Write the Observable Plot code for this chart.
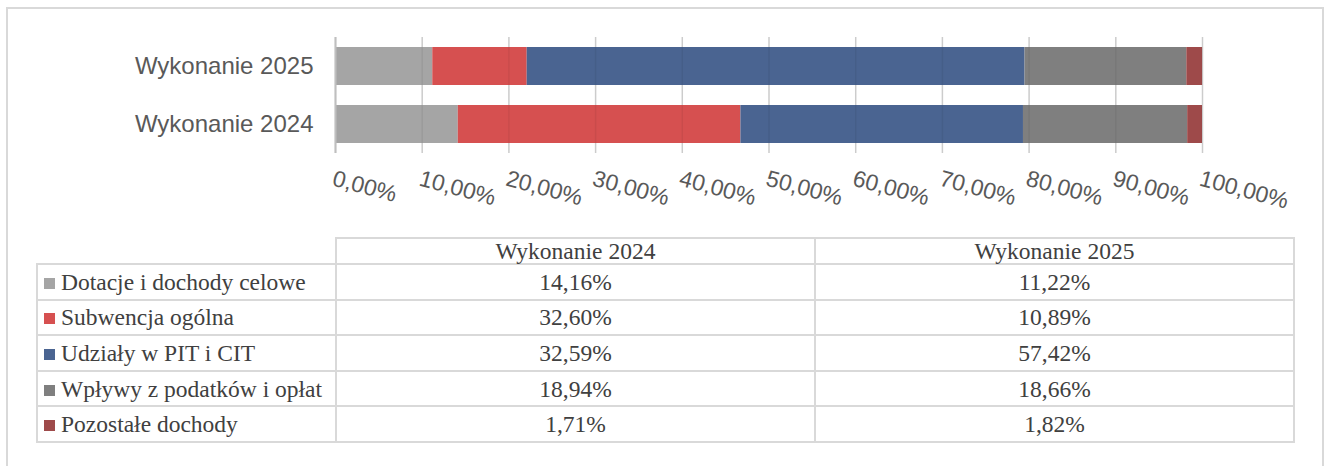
<!DOCTYPE html>
<html>
<head>
<meta charset="utf-8">
<script src="https://cdn.jsdelivr.net/npm/d3@7"></script>
<script src="https://cdn.jsdelivr.net/npm/@observablehq/plot@0.6"></script>
<style>
  html, body { margin: 0; padding: 0; background: #fff; }
  body { width: 1324px; height: 466px; position: relative; overflow: hidden; }
  #frame { position: absolute; left: 6px; top: 7px; width: 1314px; height: 480px; border: 2px solid #d9d9d9; box-sizing: content-box; }
  #chart { position: absolute; left: 0; top: 0; }
  #tbl { position: absolute; left: 36px; top: 237px; border-collapse: collapse; table-layout: fixed;
         font-family: "Liberation Serif", "Times New Roman", serif; font-size: 23.5px; color: #404040; }
  #tbl td { border: 2px solid #d9d9d9; padding: 0; line-height: 22px; vertical-align: middle; white-space: nowrap; }
  #tbl td.num { text-align: center; }
  #tbl td.lab { padding-left: 6px; }
  #tbl td.empty { border: none; }
  #tbl tr.head td { height: 24px; }
  #tbl tr.row td { height: 33.6px; }
  .sw { display: inline-block; width: 11px; height: 11px; margin-right: 6px; vertical-align: 1px; }
</style>
</head>
<body>
<div id="frame"></div>
<div id="chart"></div>
<table id="tbl"></table>
<script>
// ---- data ----
const years = ["Wykonanie 2024", "Wykonanie 2025"];
const categories = ["Dotacje i dochody celowe", "Subwencja ogólna", "Udziały w PIT i CIT", "Wpływy z podatków i opłat", "Pozostałe dochody"];
const values2024 = [14.16, 32.60, 32.59, 18.94, 1.71];
const values2025 = [11.22, 10.89, 57.42, 18.66, 1.82];
const colors = ["#a5a5a5", "#d65050", "#4a6491", "#7f7f7f", "#9e4a4a"];
const ticks = [0, 10, 20, 30, 40, 50, 60, 70, 80, 90, 100];

const fmt = v => v.toFixed(2).replace(".", ",") + "%";

const data = [];
categories.forEach((c, i) => {
  data.push({year: years[0], category: c, value: values2024[i]});
  data.push({year: years[1], category: c, value: values2025[i]});
});

const plot = Plot.plot({
  width: 1324,
  height: 230,
  marginLeft: 335,
  marginRight: 122,
  marginTop: 37,
  marginBottom: 77,
  style: {fontFamily: "'Liberation Sans', Arial, sans-serif", background: "transparent"},
  x: {domain: [0, 100], axis: null},
  y: {domain: [years[1], years[0]], paddingInner: 0.345, paddingOuter: 0.1725, axis: null},
  color: {domain: categories, range: colors},
  marks: [
    Plot.ruleX(ticks, {x: d => d, stroke: "#d9d9d9", strokeWidth: 1.5}),
    Plot.barX(data, Plot.stackX({x: "value", y: "year", fill: "category", order: categories, inset: 0})),
    Plot.ruleX(ticks.slice(1), {x: d => d, stroke: "#000", strokeOpacity: 0.06, strokeWidth: 1.5}),
    Plot.ruleX([0], {x: d => d, stroke: "#bfbfbf", strokeWidth: 2}),
    Plot.text(years, {y: d => d, frameAnchor: "left", textAnchor: "end", dx: -22, fontSize: 24, fill: "#595959"}),
    Plot.text(ticks, {x: d => d, text: d => fmt(d), frameAnchor: "bottom", textAnchor: "start", lineAnchor: "top",
                      rotate: 15, dx: 0, dy: 16, fontSize: 23, fill: "#595959"})
  ]
});
document.getElementById("chart").appendChild(plot);

// ---- table (legend + values) ----
const tbl = document.getElementById("tbl");
const colg = document.createElement("colgroup");
[299, 479, 479].forEach(w => { const c = document.createElement("col"); c.style.width = w + "px"; colg.appendChild(c); });
tbl.appendChild(colg);
const head = document.createElement("tr");
head.className = "head";
head.innerHTML = `<td class="empty"></td><td class="num">${years[0]}</td><td class="num">${years[1]}</td>`;
tbl.appendChild(head);
categories.forEach((c, i) => {
  const tr = document.createElement("tr");
  tr.className = "row";
  tr.innerHTML = `<td class="lab"><span class="sw" style="background:${colors[i]}"></span>${c}</td>` +
                 `<td class="num">${fmt(values2024[i])}</td><td class="num">${fmt(values2025[i])}</td>`;
  tbl.appendChild(tr);
});
</script>
</body>
</html>
